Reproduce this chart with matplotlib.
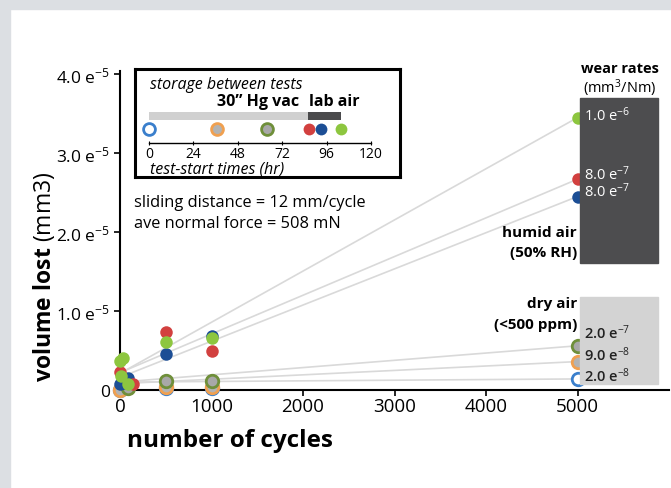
import matplotlib.pyplot as plt
from matplotlib.patches import Rectangle

plt.rcParams['font.family'] = ['Open Sans', 'DejaVu Sans']
plt.rcParams['mathtext.fontset'] = 'custom'
plt.rcParams['mathtext.rm'] = 'Open Sans'
plt.rcParams['mathtext.it'] = 'Open Sans:italic'
plt.rcParams['mathtext.bf'] = 'Open Sans:bold'

# datos (volumen en unidades de 1e-5 mm3)
green_x = [0, 30, 10, 90, 500, 1000, 5000]
green_y = [0.37, 0.41, 0.18, 0.08, 0.61, 0.66, 3.45]
red_x = [0, 140, 500, 1000, 5000]
red_y = [0.23, 0.08, 0.74, 0.50, 2.67]
blue_x = [0, 40, 90, 500, 1000, 5000]
blue_y = [0.08, 0.09, 0.15, 0.46, 0.69, 2.45]
olive_x = [90, 500, 1000, 5000]
olive_y = [0.03, 0.11, 0.11, 0.56]
orange_x = [0, 500, 1000, 5000]
orange_y = [0.0, 0.04, 0.04, 0.36]
hblue_x = [0, 500, 1000, 5000]
hblue_y = [0.0, 0.02, 0.02, 0.14]

# ordenadas al origen de los ajustes lineales
fit_start = {'green': 0.21, 'red': 0.22, 'blue': 0.16, 'olive': 0.10, 'orange': 0.08, 'hblue': 0.10}

wear_humid = ["1.0 e$^{-6}$", "8.0 e$^{-7}$", "8.0 e$^{-7}$"]
wear_dry = ["2.0 e$^{-7}$", "9.0 e$^{-8}$", "2.0 e$^{-8}$"]

# tiempos de inicio de ensayo (hr)
start_hours = [0, 37, 64, 86.5, 93, 104]
start_order = ['hblue', 'orange', 'olive', 'red', 'blue', 'green']
vac_hours = 86
lab_air_hours = 18

estilos = {
    'green': dict(mfc='#8dc63f', mec='#8dc63f'),
    'red': dict(mfc='#d2403f', mec='#d2403f'),
    'blue': dict(mfc='#1c4e95', mec='#1c4e95'),
    'olive': dict(mfc='#a8a8a8', mec='#6f8f3a'),
    'orange': dict(mfc='#b3b3b3', mec='#f0a050'),
    'hblue': dict(mfc='white', mec='#3a7fcc'),
}
series = {
    'green': (green_x, green_y), 'red': (red_x, red_y), 'blue': (blue_x, blue_y),
    'olive': (olive_x, olive_y), 'orange': (orange_x, orange_y), 'hblue': (hblue_x, hblue_y),
}
huecos = ('olive', 'orange', 'hblue')

W, H = 671, 489
fig = plt.figure(figsize=(W / 100, H / 100), dpi=100)


def fx(px):
    return px / W


def fy(py):
    return 1 - py / H


# borde gris
fig.patches.append(Rectangle((0, fy(10)), 1, 1 - fy(10), transform=fig.transFigure,
                             color='#dcdfe3', zorder=0))
fig.patches.append(Rectangle((0, 0), fx(10), 1, transform=fig.transFigure,
                             color='#dcdfe3', zorder=0))

ax = fig.add_axes([fx(120), fy(391), fx(669) - fx(120), fy(72) - fy(391)])
ax.set_xlim(0, 6000)
ax.set_ylim(0, 4.04)
for s in ['top', 'right']:
    ax.spines[s].set_visible(False)
for s in ['left', 'bottom']:
    ax.spines[s].set_linewidth(1.5)

for nombre in ['olive', 'orange', 'hblue', 'green', 'red', 'blue']:
    xs, ys = series[nombre]
    ax.plot([0, xs[-1]], [fit_start[nombre], ys[-1]], color='#d9d9d9', lw=1.2, zorder=1)

for nombre in ['hblue', 'orange', 'olive', 'blue', 'red', 'green']:
    xs, ys = series[nombre]
    st = estilos[nombre]
    mew = 2 if nombre in huecos else 0
    ax.plot(xs, ys, 'o', ms=9, mfc=st['mfc'], mec=st['mec'], mew=mew, zorder=3, clip_on=False)

ax.set_xticks([0, 1000, 2000, 3000, 4000, 5000])
ax.set_yticks([0, 1, 2, 3, 4])
ax.set_yticklabels(["0", "1.0 e$^{-5}$", "2.0 e$^{-5}$", "3.0 e$^{-5}$", "4.0 e$^{-5}$"])
ax.tick_params(axis='both', labelsize=12.5, length=4, width=1.2, direction='out')
ax.tick_params(axis='x', labelsize=13.5, pad=1)
ax.tick_params(axis='y', pad=3)

fig.text(fx(230), fy(441), "number of cycles", fontsize=17.5, fontweight='bold', ha='center', va='center')
fig.text(fx(44), fy(277), r"$\mathbf{volume\ lost}$ (mm3)", fontsize=16.5, rotation=90,
         ha='center', va='center')

fig.text(fx(134), fy(203), "sliding distance = 12 mm/cycle", fontsize=11.8, va='center')
fig.text(fx(134), fy(224), "ave normal force = 508 mN", fontsize=11.8, va='center')

# recuadro de almacenamiento
box = fig.add_axes([fx(135), fy(178), fx(400) - fx(135), fy(70) - fy(178)])
box.set_xticks([])
box.set_yticks([])
for s in box.spines.values():
    s.set_linewidth(2.2)

tl = fig.add_axes([fx(149), fy(144), fx(371) - fx(149), fy(108) - fy(144)])
tl.set_xlim(0, 120)
tl.set_ylim(0, 1)
tl.patch.set_visible(False)
for s in ['top', 'right', 'left']:
    tl.spines[s].set_visible(False)
tl.spines['bottom'].set_linewidth(1)
tl.set_yticks([])
tl.set_xticks([0, 24, 48, 72, 96, 120])
tl.tick_params(axis='x', labelsize=10, length=3, direction='inout', pad=1)
tl.barh(0.76, vac_hours, height=0.22, left=0, color='#d0d0d0')
tl.barh(0.76, lab_air_hours, height=0.22, left=vac_hours, color='#4a4a4c')
for h, nombre in zip(start_hours, start_order):
    st = estilos[nombre]
    mew = 2 if nombre in huecos else 0
    tl.plot([h], [0.38], 'o', ms=8.5, mfc=st['mfc'], mec=st['mec'], mew=mew, clip_on=False)

fig.text(fx(150), fy(85), "storage between tests", fontsize=11.5, style='italic', va='center')
fig.text(fx(217), fy(102), "30\u201d Hg vac", fontsize=11.5, fontweight='bold', va='center')
fig.text(fx(309), fy(102), "lab air", fontsize=11.5, fontweight='bold', va='center')
fig.text(fx(150), fy(169), "test-start times (hr)", fontsize=11.5, style='italic', va='center')

# paneles de tasas de desgaste
fig.patches.append(Rectangle((fx(580), fy(264)), fx(658) - fx(580), fy(99) - fy(264),
                             transform=fig.transFigure, color='#4d4d4f', zorder=1))
fig.patches.append(Rectangle((fx(580), fy(385)), fx(658) - fx(580), fy(298) - fy(385),
                             transform=fig.transFigure, color='#d3d3d3', zorder=1))

fig.text(fx(620), fy(69), "wear rates", fontsize=10.5, fontweight='bold', ha='center', va='center')
fig.text(fx(620), fy(88), "(mm$^3$/Nm)", fontsize=10.5, ha='center', va='center')
for txt, py in zip(wear_humid, [116, 175, 192]):
    fig.text(fx(584), fy(py), txt, fontsize=10.5, color='white', va='center')
for txt, py in zip(wear_dry, [333, 355, 376]):
    fig.text(fx(584), fy(py), txt, fontsize=10.5, color='#222222', fontweight='semibold', va='center')

fig.text(fx(577), fy(233), "humid air", fontsize=11, fontweight='bold', ha='right', va='center')
fig.text(fx(577), fy(253), "(50% RH)", fontsize=11, fontweight='bold', ha='right', va='center')
fig.text(fx(577), fy(304), "dry air", fontsize=11, fontweight='bold', ha='right', va='center')
fig.text(fx(577), fy(325), "(<500 ppm)", fontsize=11, fontweight='bold', ha='right', va='center')

fig.savefig("out.png", dpi=100)
